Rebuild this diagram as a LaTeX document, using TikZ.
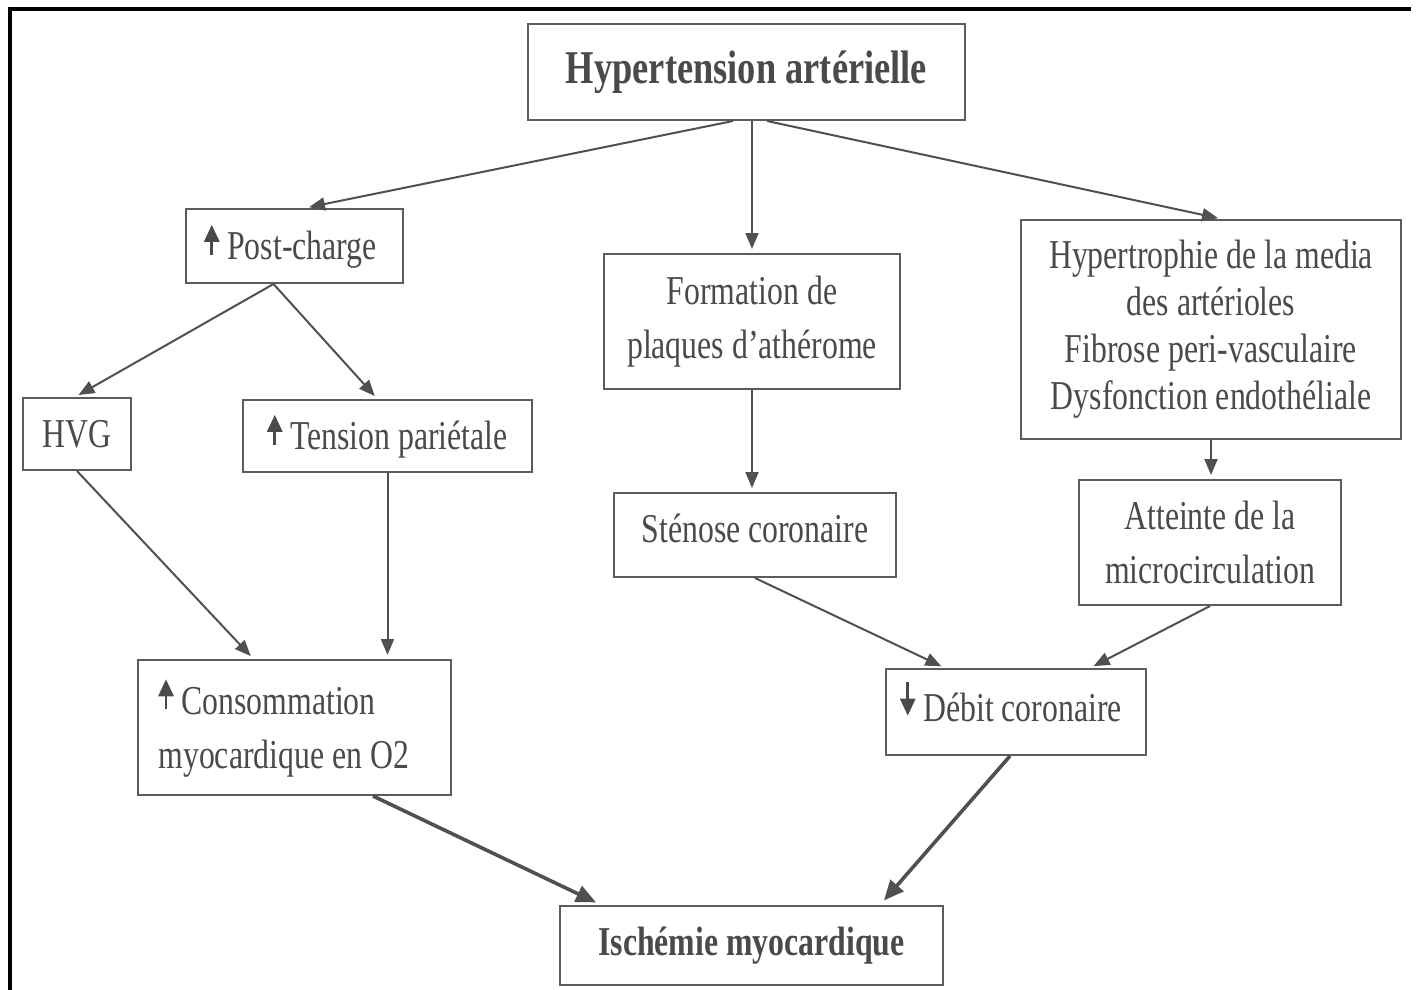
\documentclass[tikz,border=0pt]{standalone}
\usepackage{fontspec}
\setmainfont{Liberation Serif}[FakeStretch=0.775]
\usetikzlibrary{arrows.meta}

\definecolor{linegray}{HTML}{505050}
\definecolor{boxgray}{HTML}{5C5C5C}
\definecolor{txtgray}{HTML}{4A4A4A}

% small increase / decrease arrows set before a label
\newcommand{\incr}{\tikz[baseline=0pt,x=1pt,y=1pt]\draw[draw=txtgray,line width=2.8pt,-{Triangle[length=17pt,width=15pt]}] (0,5) -- (0,35);\hspace{8pt}}
\newcommand{\decr}{\tikz[baseline=0pt,x=1pt,y=1pt]\draw[draw=txtgray,line width=2.8pt,-{Triangle[length=17pt,width=15pt]}] (0,40) -- (0,6);\hspace{8pt}}

\tikzset{
  box/.style={draw=boxgray, line width=2pt, fill=white, text=txtgray,
    inner sep=0pt, align=center, font=\fontsize{41}{54}\selectfont},
  titlebox/.style={box, font=\fontsize{47}{54}\selectfont\bfseries},
  link/.style={draw=linegray, line width=2pt,
    -{Triangle[length=16pt,width=13pt]}, shorten >=4pt},
  heavylink/.style={draw=linegray, line width=3.6pt,
    -{Triangle[length=20pt,width=17pt]}, shorten >=6pt},
}

\begin{document}
\begin{tikzpicture}[x=1pt,y=-1pt]
\useasboundingbox (0,0) rectangle (1417,989);

% page frame (top and left edges)
\draw[line width=4.5pt, line cap=rect] (1409,9) -- (10,9) -- (10,989);

% boxes
\node[titlebox, minimum width=437pt, minimum height=96pt] (hta) at (746.5,72) {Hypertension artérielle};
\node[box, minimum width=217pt, minimum height=74pt] (post) at (294.5,246) {\incr Post-charge\hspace{8pt}};
\node[box, minimum width=296pt, minimum height=135pt] (form) at (752,321.5) {Formation de\\plaques d’athérome};
\node[box, minimum width=380pt, minimum height=219pt, font=\fontsize{41}{47}\selectfont] (hyp) at (1211,329.5)
  {Hypertrophie de la media\\des artérioles\\Fibrose peri-vasculaire\\Dysfonction endothéliale};
\node[box, minimum width=108pt, minimum height=72pt] (hvg) at (77,434) {HVG};
\node[box, minimum width=289pt, minimum height=72pt] (tens) at (387.5,436) {\incr Tension pariétale};
\node[box, minimum width=282pt, minimum height=84pt, text depth=14pt] (sten) at (755,535) {Sténose coronaire};
\node[box, minimum width=262pt, minimum height=125pt] (att) at (1210,542.5) {Atteinte de la\\microcirculation};
\node[box, minimum width=313pt, minimum height=135pt, align=flush left, text width=272pt] (cons) at (294.5,727.5) {\incr Consommation\\myocardique en O2};
\node[box, minimum width=260pt, minimum height=86pt, text depth=22pt] (deb) at (1016,712) {\decr Débit coronaire\hspace{10pt}};
\node[titlebox, minimum width=383pt, minimum height=79pt, font=\fontsize{41}{54}\selectfont\bfseries] (isch) at (751.5,945.5) {Ischémie myocardique};

% connectors
\draw[link] ([xshift=-13.5pt]hta.south) -- ([xshift=10.5pt]post.north);
\draw[link] (form.north |- hta.south) -- (form.north);
\draw[link] ([xshift=20.5pt]hta.south) -- ([xshift=11pt]hyp.north);

\draw[link] ([xshift=-21pt]post.south) -- ([xshift=-2pt]hvg.north);
\draw[link] ([xshift=-21pt]post.south) -- ([xshift=-10pt]tens.north);

\draw[link] (hvg.south) -- ([xshift=-41pt]cons.north);
\draw[link] (tens.south) -- (tens.south |- cons.north);

\draw[link] (form.south) -- (form.south |- sten.north);
\draw[link] (hyp.south) -- (hyp.south |- att.north);

\draw[link] (sten.south) -- ([xshift=-71pt]deb.north);
\draw[link] (att.south) -- ([xshift=74pt]deb.north);

\draw[heavylink] ([xshift=78.5pt]cons.south) -- ([xshift=-150pt]isch.north);
\draw[heavylink] ([xshift=-6pt]deb.south) -- ([xshift=128.5pt]isch.north);
\end{tikzpicture}
\end{document}
